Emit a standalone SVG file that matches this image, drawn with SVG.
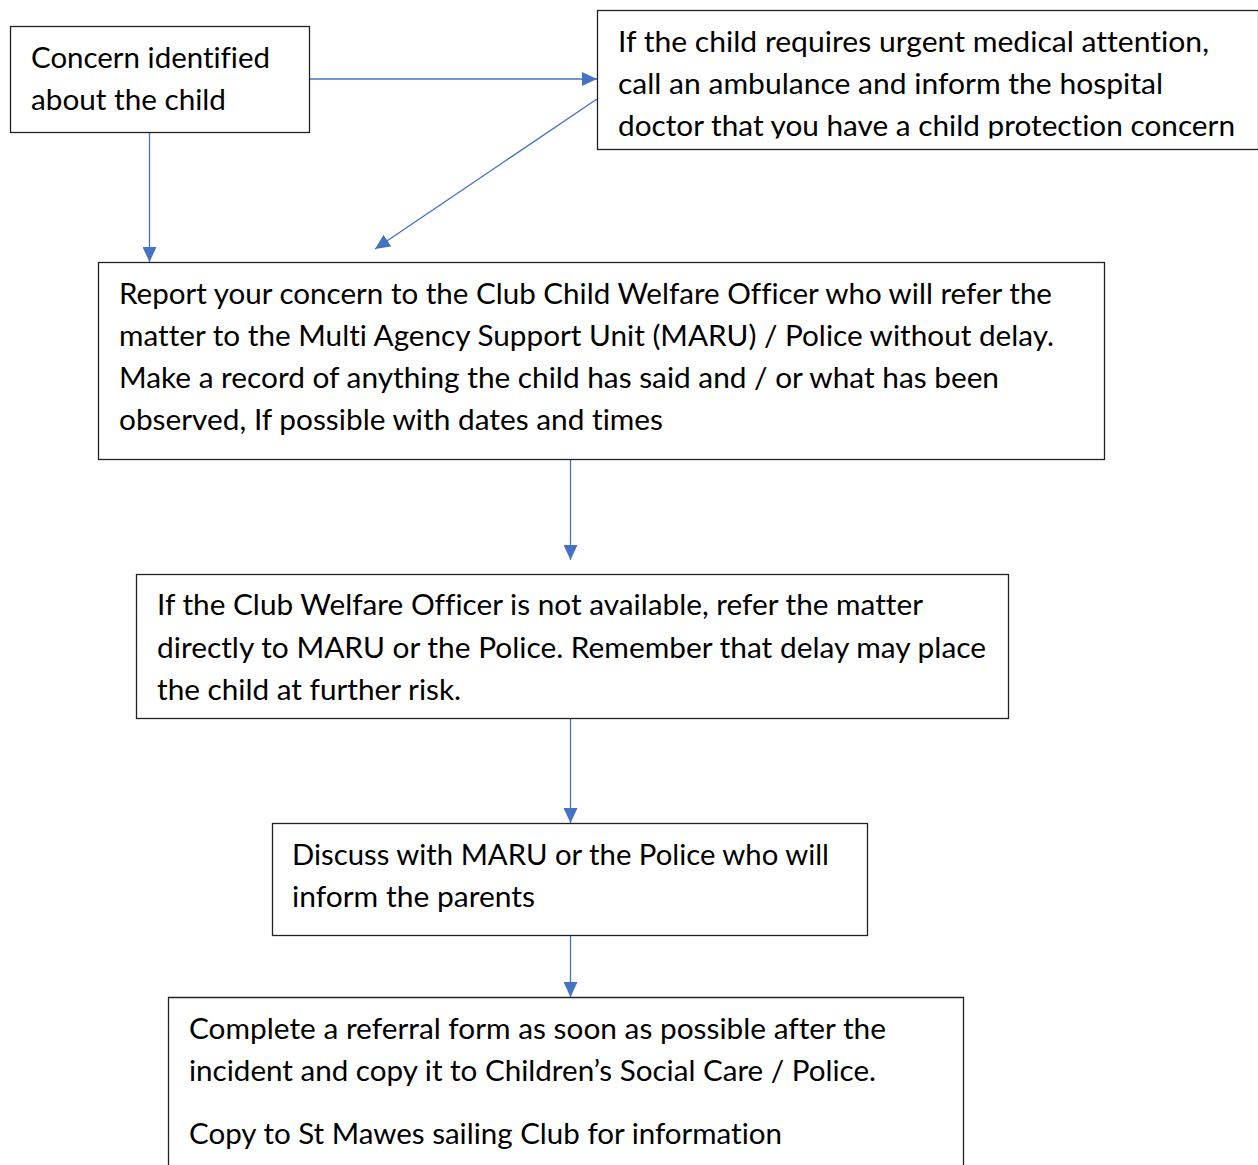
<svg xmlns="http://www.w3.org/2000/svg" width="1258" height="1165" viewBox="0 0 1258 1165">
<style>
.box{fill:#fff;stroke:#222;stroke-width:1.3}
.t{font-family:Lato,"Open Sans","Liberation Sans",sans-serif;font-size:28px;fill:#000;font-variant-ligatures:none}
.c{stroke:#4472C4;stroke-width:1.3;fill:none}
</style>
<defs>
<marker id="ah" markerUnits="userSpaceOnUse" markerWidth="16" markerHeight="14" refX="15" refY="7" orient="auto">
<path d="M0,0 L15,7 L0,14 z" fill="#4472C4"/>
</marker>
<clipPath id="clip2"><rect x="597" y="10" width="661" height="128.5"/></clipPath>
</defs>
<rect width="1258" height="1165" fill="#fff"/>
<g id="connectors">
<line class="c" x1="310" y1="79" x2="597" y2="79" marker-end="url(#ah)"/>
<line class="c" x1="149.5" y1="132" x2="149.5" y2="262" marker-end="url(#ah)"/>
<line class="c" x1="597" y1="99" x2="375" y2="249" marker-end="url(#ah)"/>
<line class="c" x1="570.5" y1="460" x2="570.5" y2="560" marker-end="url(#ah)"/>
<line class="c" x1="570.5" y1="718" x2="570.5" y2="823" marker-end="url(#ah)"/>
<line class="c" x1="570.5" y1="935" x2="570.5" y2="997" marker-end="url(#ah)"/>
</g>
<g id="node1">
<rect class="box" x="10.5" y="26.5" width="299" height="106"/>
<text class="t" x="31" y="68" textLength="239" lengthAdjust="spacingAndGlyphs">Concern identified</text>
<text class="t" x="31" y="110" textLength="195" lengthAdjust="spacingAndGlyphs">about the child</text>
</g>
<g id="node2">
<rect class="box" x="597.5" y="10.5" width="661" height="139"/>
<g clip-path="url(#clip2)">
<text class="t" x="618" y="52" textLength="591" lengthAdjust="spacingAndGlyphs">If the child requires urgent medical attention,</text>
<text class="t" x="618" y="94" textLength="545" lengthAdjust="spacingAndGlyphs">call an ambulance and inform the hospital</text>
<text class="t" x="618" y="136" textLength="617" lengthAdjust="spacingAndGlyphs">doctor that you have a child protection concern</text>
</g>
</g>
<g id="node3">
<rect class="box" x="98.5" y="262.5" width="1006" height="197"/>
<text class="t" x="119" y="304" textLength="933" lengthAdjust="spacingAndGlyphs">Report your concern to the Club Child Welfare Officer who will refer the</text>
<text class="t" x="119" y="346" textLength="935" lengthAdjust="spacingAndGlyphs">matter to the Multi Agency Support Unit (MARU) / Police without delay.</text>
<text class="t" x="119" y="388" textLength="880" lengthAdjust="spacingAndGlyphs">Make a record of anything the child has said and / or what has been</text>
<text class="t" x="119" y="430" textLength="544" lengthAdjust="spacingAndGlyphs">observed, If possible with dates and times</text>
</g>
<g id="node4">
<rect class="box" x="136.5" y="574.5" width="872" height="144"/>
<text class="t" x="157" y="615" textLength="766" lengthAdjust="spacingAndGlyphs">If the Club Welfare Officer is not available, refer the matter</text>
<text class="t" x="157" y="658" textLength="829" lengthAdjust="spacingAndGlyphs">directly to MARU or the Police. Remember that delay may place</text>
<text class="t" x="157" y="700" textLength="304" lengthAdjust="spacingAndGlyphs">the child at further risk.</text>
</g>
<g id="node5">
<rect class="box" x="272.5" y="823.5" width="595" height="112"/>
<text class="t" x="292" y="865" textLength="537" lengthAdjust="spacingAndGlyphs">Discuss with MARU or the Police who will</text>
<text class="t" x="292" y="907" textLength="243" lengthAdjust="spacingAndGlyphs">inform the parents</text>
</g>
<g id="node6">
<path class="box" d="M168.5,1166 V997.5 H963.5 V1166"/>
<text class="t" x="189" y="1039" textLength="697" lengthAdjust="spacingAndGlyphs">Complete a referral form as soon as possible after the</text>
<text class="t" x="189" y="1081" textLength="687" lengthAdjust="spacingAndGlyphs">incident and copy it to Children’s Social Care / Police.</text>
<text class="t" x="189" y="1144" textLength="593" lengthAdjust="spacingAndGlyphs">Copy to St Mawes sailing Club for information</text>
</g>
</svg>
